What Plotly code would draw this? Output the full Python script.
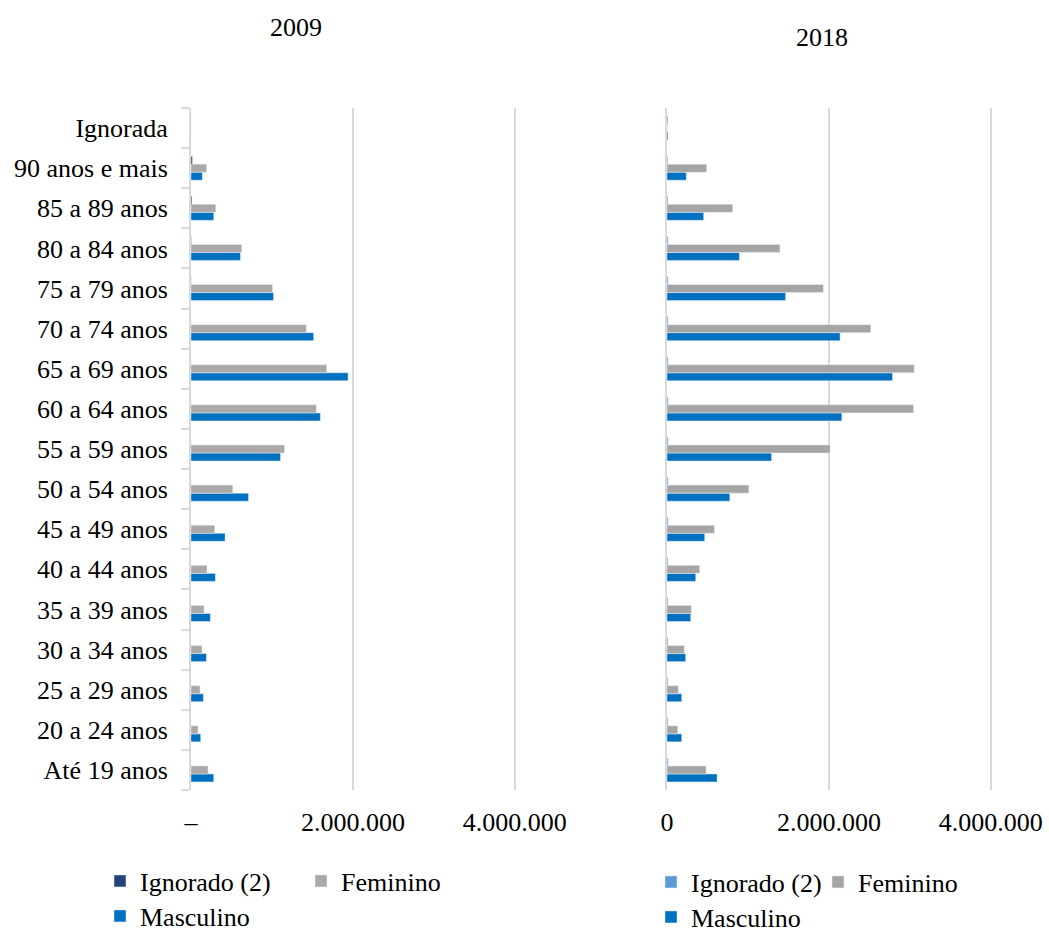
import plotly.graph_objects as go

# Age groups, bottom to top
faixas = ["Até 19 anos", "20 a 24 anos", "25 a 29 anos", "30 a 34 anos", "35 a 39 anos",
          "40 a 44 anos", "45 a 49 anos", "50 a 54 anos", "55 a 59 anos", "60 a 64 anos",
          "65 a 69 anos", "70 a 74 anos", "75 a 79 anos", "80 a 84 anos", "85 a 89 anos",
          "90 anos e mais", "Ignorada"]

# 2009
fem_2009 = [210000, 87000, 111000, 136000, 161000, 198000, 292000, 516000, 1156000, 1548000,
            1676000, 1424000, 1007000, 627000, 306000, 194000, 0]
masc_2009 = [281000, 120000, 152000, 190000, 239000, 301000, 421000, 710000, 1106000, 1598000,
             1940000, 1515000, 1019000, 611000, 281000, 140000, 0]
ign_2009 = [0, 0, 0, 0, 0, 0, 0, 0, 0, 0, 0, 0, 2000, 5000, 12000, 18000, 0]

# 2018
fem_2018 = [483000, 132000, 140000, 214000, 301000, 404000, 586000, 1010000, 2016000, 3046000,
            3053000, 2517000, 1931000, 1395000, 811000, 490000, 3000]
masc_2018 = [619000, 182000, 182000, 231000, 293000, 355000, 466000, 776000, 1292000, 2160000,
             2786000, 2138000, 1465000, 895000, 453000, 238000, 12000]
ign_2018 = [14000, 12000, 12000, 12000, 12000, 12000, 14000, 14000, 14000, 14000,
            14000, 14000, 14000, 14000, 12000, 10000, 12000]

x_ticks = [0, 2000000, 4000000]
x_text_2009 = ["–", "2.000.000", "4.000.000"]
x_text_2018 = ["0", "2.000.000", "4.000.000"]

FONT = "Liberation Serif"
GRID = "#D9D9D9"
W, H = 1049, 933


def px_x(p):
    return p / W


def px_y(p):
    return 1 - p / H


fig = go.Figure()

panels = [
    ("x", "y", masc_2009, fem_2009, ign_2009, "#264478", "#ABA8A8", "legend", "legend2"),
    ("x2", "y2", masc_2018, fem_2018, ign_2018, "#5B9BD5", "#A5A5A5", "legend3", "legend4"),
]
for xa, ya, masc, fem, ign, c_ign, c_fem, lg1, lg2 in panels:
    fig.add_trace(go.Bar(y=faixas, x=masc, orientation="h", name="Masculino",
                         marker_color="#0070C0", xaxis=xa, yaxis=ya, legend=lg2))
    fig.add_trace(go.Bar(y=faixas, x=fem, orientation="h", name="Feminino",
                         marker_color=c_fem, xaxis=xa, yaxis=ya, legend=lg1, legendrank=2))
    fig.add_trace(go.Bar(y=faixas, x=ign, orientation="h", name="Ignorado (2)",
                         marker_color=c_ign, xaxis=xa, yaxis=ya, legend=lg1, legendrank=1))

xr = [0, 4200000]
y_dom = [px_y(790), px_y(108)]

xaxis_common = dict(range=xr, tickvals=x_ticks, showgrid=True, gridcolor=GRID, gridwidth=2,
                    zeroline=False, showline=False, ticks="", ticklabelstandoff=14,
                    automargin=False,
                    tickfont=dict(family=FONT, size=26, color="#000000"), fixedrange=True)

fig.update_layout(
    width=W, height=H,
    margin=dict(l=0, r=0, t=0, b=0, autoexpand=False),
    paper_bgcolor="white", plot_bgcolor="white",
    barmode="group", bargap=0.4, bargroupgap=0,
    font=dict(family=FONT, size=26, color="#000000"),
    xaxis=dict(domain=[px_x(191), px_x(191 + 340)], anchor="y", ticktext=x_text_2009,
               **xaxis_common),
    xaxis2=dict(domain=[px_x(667), px_x(667 + 340)], anchor="y2", ticktext=x_text_2018,
                **xaxis_common),
    yaxis=dict(domain=y_dom, anchor="x", showline=True, linecolor=GRID, linewidth=2,
               ticks="outside", tickson="boundaries", ticklen=8, tickwidth=2, tickcolor=GRID,
               ticklabelstandoff=16, showgrid=False, fixedrange=True,
               tickfont=dict(family=FONT, size=26, color="#000000"), automargin=False),
    yaxis2=dict(domain=y_dom, anchor="x2", showline=True, linecolor=GRID, linewidth=2,
                showticklabels=False, ticks="", showgrid=False, fixedrange=True,
                automargin=False),
    annotations=[
        dict(text="2009", x=px_x(296), y=px_y(28), xref="paper", yref="paper",
             xanchor="center", yanchor="middle", showarrow=False,
             font=dict(family=FONT, size=26)),
        dict(text="2018", x=px_x(822), y=px_y(37), xref="paper", yref="paper",
             xanchor="center", yanchor="middle", showarrow=False,
             font=dict(family=FONT, size=26)),
    ],
)

leg_common = dict(orientation="h", xanchor="left", yanchor="middle", xref="paper", yref="paper",
                  bgcolor="rgba(0,0,0,0)", borderwidth=0, itemclick=False, itemdoubleclick=False,
                  font=dict(family=FONT, size=26, color="#000000"), entrywidthmode="pixels")
fig.update_layout(
    legend=dict(x=px_x(100), y=px_y(881), entrywidth=156, **leg_common),
    legend2=dict(x=px_x(100), y=px_y(916), entrywidth=156, **leg_common),
    legend3=dict(x=px_x(651), y=px_y(882), entrywidth=122, **leg_common),
    legend4=dict(x=px_x(651), y=px_y(917), entrywidth=122, **leg_common),
)

fig.write_html("out.html")
